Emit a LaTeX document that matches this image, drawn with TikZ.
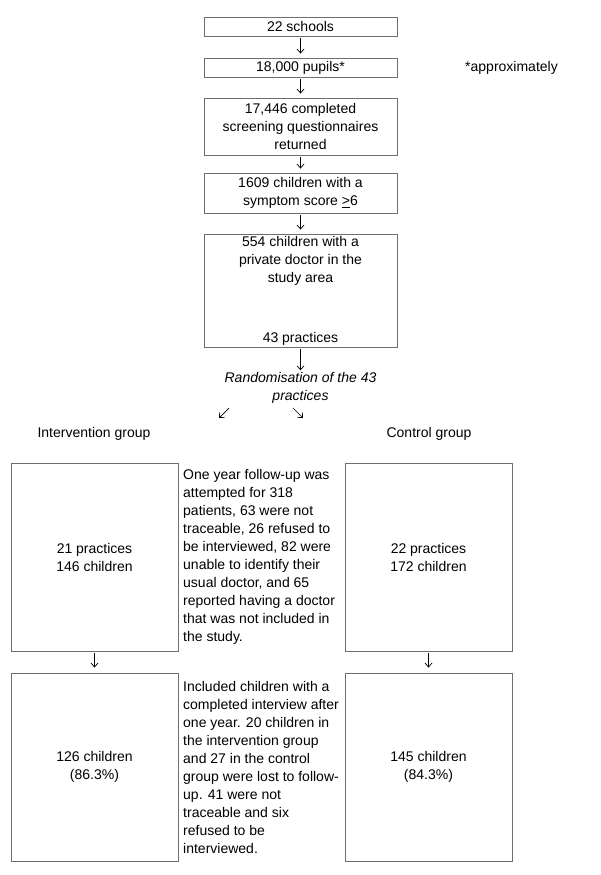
\documentclass[tikz,border=0pt]{standalone}
\usepackage{fontspec}
\setmainfont{Liberation Sans}
\usetikzlibrary{arrows.meta,calc}
\definecolor{boxgray}{HTML}{6E6E6E}
\begin{document}
\begin{tikzpicture}[x=1pt,y=-1pt,
  box/.style={draw=boxgray, line width=0.9pt, inner sep=0pt},
  txt/.style={font=\fontsize{14}{18}\selectfont, align=center, inner sep=0pt},
  side/.style={font=\fontsize{14}{18}\selectfont, align=left, inner sep=0pt, anchor=west},
  arr/.style={-{Straight Barb[length=4pt,width=7pt]}, line width=0.7pt}]
\path[use as bounding box, fill=white] (0,0) rectangle (600,875);

% top chain
\node[box, minimum width=193pt, minimum height=19pt] (b1) at (300.5,26.5) {};
\node[txt] at (b1.center) {22 schools};
\node[box, minimum width=193pt, minimum height=19pt] (b2) at (300.5,67.5) {};
\node[txt] at (b2.center) {18,000 pupils*};
\node[txt, anchor=west] (approx) at (465,68) {*approximately};
\node[box, minimum width=193pt, minimum height=57pt] (b3) at (300.5,126.5) {};
\node[txt] at (b3.center) {17,446 completed\\screening questionnaires\\returned};
\node[box, minimum width=193pt, minimum height=40pt] (b4) at (300.5,193) {};
\node[txt] at (b4.center) {1609 children with a\\symptom score \underline{>}6};
\node[box, minimum width=193pt, minimum height=113pt] (b5) at (300.5,290.5) {};
\node[txt, anchor=north] at ($(b5.north)+(0,3)$) {554 children with a\\private doctor in the\\study area};
\node[txt, anchor=base] at (300.5,342) {43 practices};

\node[txt, font=\fontsize{14}{18}\selectfont\itshape] (rand) at (300.5,388) {Randomisation of the 43\\practices};

\draw[arr] ($(b1.south)+(0,2)$) -- ($(b2.north)+(0,-4)$);
\draw[arr] ($(b2.south)+(0,2)$) -- ($(b3.north)+(0,-4)$);
\draw[arr] ($(b3.south)+(0,2)$) -- ($(b4.north)+(0,-4)$);
\draw[arr] ($(b4.south)+(0,2)$) -- ($(b5.north)+(0,-4)$);
\draw[arr] ($(b5.south)+(0,2)$) -- ($(rand.north)+(0,-2)$);

\coordinate (dl1) at (229,408);
\coordinate (dl2) at (219,418);
\coordinate (dr1) at (293,408);
\coordinate (dr2) at (303,418);
\draw[arr] (dl1) -- (dl2);
\draw[arr] (dr1) -- (dr2);

\node[txt] (ig) at (94,434) {Intervention group};
\node[txt] (cg) at (429,434) {Control group};

% row 1
\node[box, minimum width=167pt, minimum height=188pt] (l1) at (94.5,557) {};
\node[txt] at (l1.center) {21 practices\\146 children};
\node[box, minimum width=167pt, minimum height=188pt] (r1) at (428.5,557) {};
\node[txt] at (r1.center) {22 practices\\172 children};
\node[side] (m1) at (183,557) {One year follow-up was\\attempted for 318\\patients, 63 were not\\traceable, 26 refused to\\be interviewed, 82 were\\unable to identify their\\usual doctor, and 65\\reported having a doctor\\that was not included in\\the study.};

% row 2
\node[box, minimum width=167pt, minimum height=188pt] (l2) at (94.5,767) {};
\node[txt] at (l2.center) {126 children\\(86.3\%)};
\node[box, minimum width=167pt, minimum height=188pt] (r2) at (428.5,767) {};
\node[txt] at (r2.center) {145 children\\(84.3\%)};
\node[side] (m2) at (183,767) {Included children with a\\completed interview after\\one year. 20 children in\\the intervention group\\and 27 in the control\\group were lost to follow-\\up. 41 were not\\traceable and six\\refused to be\\interviewed.};

\draw[arr] ($(l1.south)+(0,2)$) -- ($(l2.north)+(0,-5)$);
\draw[arr] ($(r1.south)+(0,2)$) -- ($(r2.north)+(0,-5)$);
\end{tikzpicture}
\end{document}
